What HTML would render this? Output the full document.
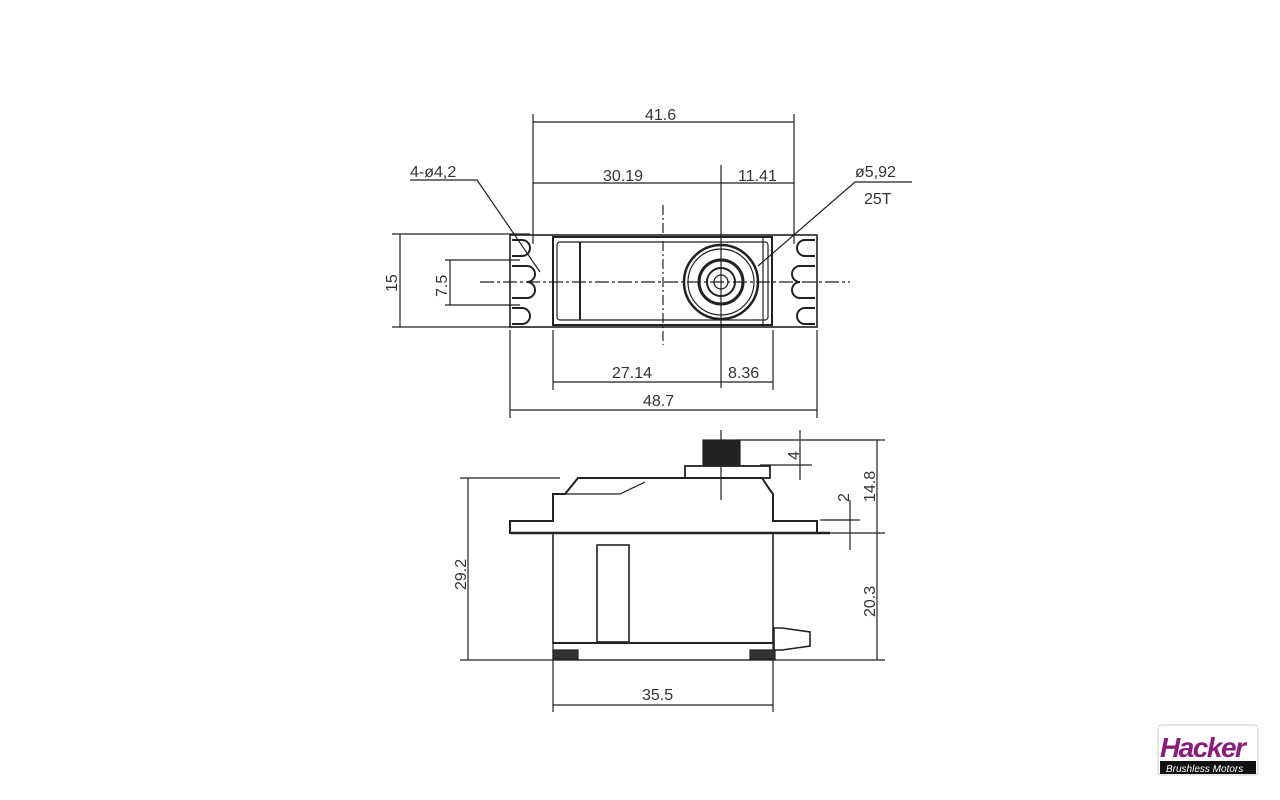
<!DOCTYPE html>
<html><head><meta charset="utf-8"><style>
html,body{margin:0;padding:0;background:#fff;}
svg{display:block;}
text{font-family:"Liberation Sans",sans-serif;fill:#333;}
</style></head><body>
<svg width="1280" height="800" viewBox="0 0 1280 800" xmlns="http://www.w3.org/2000/svg">
<g stroke="#222" fill="none" stroke-width="1.2">
<line x1="533" y1="114" x2="533" y2="244"/>
<line x1="794" y1="114" x2="794" y2="244"/>
<line x1="533" y1="122" x2="794" y2="122"/>
<line x1="533" y1="183" x2="794" y2="183"/>
<line x1="721" y1="165" x2="721" y2="388"/>
<line x1="663" y1="205" x2="663" y2="345" stroke-dasharray="10,3,2,3"/>
<line x1="392" y1="234" x2="530" y2="234"/>
<line x1="392" y1="327" x2="530" y2="327"/>
<line x1="400" y1="234" x2="400" y2="327"/>
<line x1="445" y1="260" x2="520" y2="260"/>
<line x1="445" y1="305" x2="520" y2="305"/>
<line x1="450" y1="260" x2="450" y2="305"/>
<line x1="480" y1="282" x2="850" y2="282" stroke-dasharray="14,3,3,3"/>
<line x1="510" y1="330" x2="510" y2="418"/>
<line x1="817" y1="330" x2="817" y2="418"/>
<line x1="553" y1="330" x2="553" y2="390"/>
<line x1="773" y1="330" x2="773" y2="390"/>
<line x1="553" y1="382" x2="773" y2="382"/>
<line x1="510" y1="410" x2="817" y2="410"/>
<polyline points="410,180 477,180 540,272"/>
<polyline points="912,182 855,182 758,266"/>
<rect x="510" y="235" width="307" height="92" stroke-width="1.6"/>
<rect x="553" y="237" width="219" height="88" stroke-width="2"/>
<rect x="557" y="242" width="211" height="78" rx="3"/>
<line x1="580" y1="242" x2="580" y2="320" stroke-width="2"/>
<line x1="772" y1="237" x2="772" y2="325"/>
<line x1="763" y1="237" x2="763" y2="325"/>
<circle cx="721" cy="282" r="37" stroke-width="2.5"/>
<circle cx="721" cy="282" r="33"/>
<circle cx="721" cy="282" r="22" stroke-width="3"/>
<circle cx="721" cy="282" r="14" stroke-width="2"/>
<circle cx="721" cy="282" r="7"/>
<path d="M512,240 h10 a8,8 0 0 1 0,16 h-10" stroke-width="2"/>
<path d="M512,266 h15 a8,8 0 0 1 0,16 a8,8 0 0 1 0,16 h-15" stroke-width="2"/>
<path d="M512,308 h10 a8,8 0 0 1 0,16 h-10" stroke-width="2"/>
<path d="M815,240 h-10 a8,8 0 0 0 0,16 h10" stroke-width="2"/>
<path d="M815,266 h-15 a8,8 0 0 0 0,16 a8,8 0 0 0 0,16 h15" stroke-width="2"/>
<path d="M815,308 h-10 a8,8 0 0 0 0,16 h10" stroke-width="2"/>
<line x1="740" y1="440" x2="885" y2="440"/>
<line x1="760" y1="465" x2="812" y2="465"/>
<line x1="800" y1="430" x2="800" y2="480"/>
<line x1="877" y1="440" x2="877" y2="660"/>
<line x1="820" y1="520" x2="860" y2="520"/>
<line x1="780" y1="533" x2="885" y2="533"/>
<line x1="850" y1="500" x2="850" y2="550"/>
<line x1="460" y1="478" x2="560" y2="478"/>
<line x1="460" y1="660" x2="885" y2="660"/>
<line x1="468" y1="478" x2="468" y2="660"/>
<line x1="553" y1="660" x2="553" y2="712"/>
<line x1="773" y1="660" x2="773" y2="712"/>
<line x1="553" y1="705" x2="773" y2="705"/>
<path d="M510,533 L510,521 L553,521 L553,494 L565,494 L578,478 L762,478 L770,490 L773,494 L773,521 L817,521 L817,533 Z" stroke-width="2"/>
<path d="M565,494 L620,494 L645,482" />
<line x1="510" y1="533" x2="830" y2="533" stroke-width="2.4"/>
<rect x="553" y="533" width="220" height="110" stroke-width="1.6"/>
<rect x="597" y="545" width="32" height="97" stroke-width="1.6"/>
<line x1="553" y1="643" x2="773" y2="643" stroke-width="2"/>
<rect x="553" y="643" width="220" height="17"/>
<rect x="553" y="650" width="25" height="9" fill="#333"/>
<rect x="750" y="650" width="25" height="9" fill="#333"/>
<rect x="685" y="466" width="85" height="12" stroke-width="1.8"/>
<rect x="703" y="440" width="37" height="26" fill="#222"/>
<line x1="721" y1="430" x2="721" y2="500"/>
<path d="M774,628 h8 l28,4 v14 l-28,4 h-8 z" stroke-width="1.6"/>
</g>
<g font-size="16">
<text x="645" y="120">41.6</text>
<text x="603" y="181">30.19</text>
<text x="738" y="181">11.41</text>
<text x="410" y="177">4-ø4,2</text>
<text x="855" y="177">ø5,92</text>
<text x="864" y="204" font-family="Liberation Serif">25T</text>
<text x="612" y="378">27.14</text>
<text x="728" y="378">8.36</text>
<text x="643" y="406">48.7</text>
<text x="642" y="700">35.5</text>
<text transform="translate(397,292) rotate(-90)">15</text>
<text transform="translate(447,297) rotate(-90)">7.5</text>
<text transform="translate(466,590) rotate(-90)">29.2</text>
<text transform="translate(799,460) rotate(-90)">4</text>
<text transform="translate(849,502) rotate(-90)">2</text>
<text transform="translate(875,502) rotate(-90)">14.8</text>
<text transform="translate(875,617) rotate(-90)">20.3</text>
</g>
<rect x="1158" y="725" width="100" height="50" rx="3" fill="#fff" stroke="#ccc"/>
<text x="1160" y="757" font-size="28" font-weight="bold" font-style="italic" style="fill:#8a1c7c" letter-spacing="-1.5">Hacker</text>
<rect x="1160" y="761" width="96" height="13" fill="#111"/>
<text x="1166" y="772" font-size="10" font-style="italic" style="fill:#fff">Brushless Motors</text>
</svg>
</body></html>
